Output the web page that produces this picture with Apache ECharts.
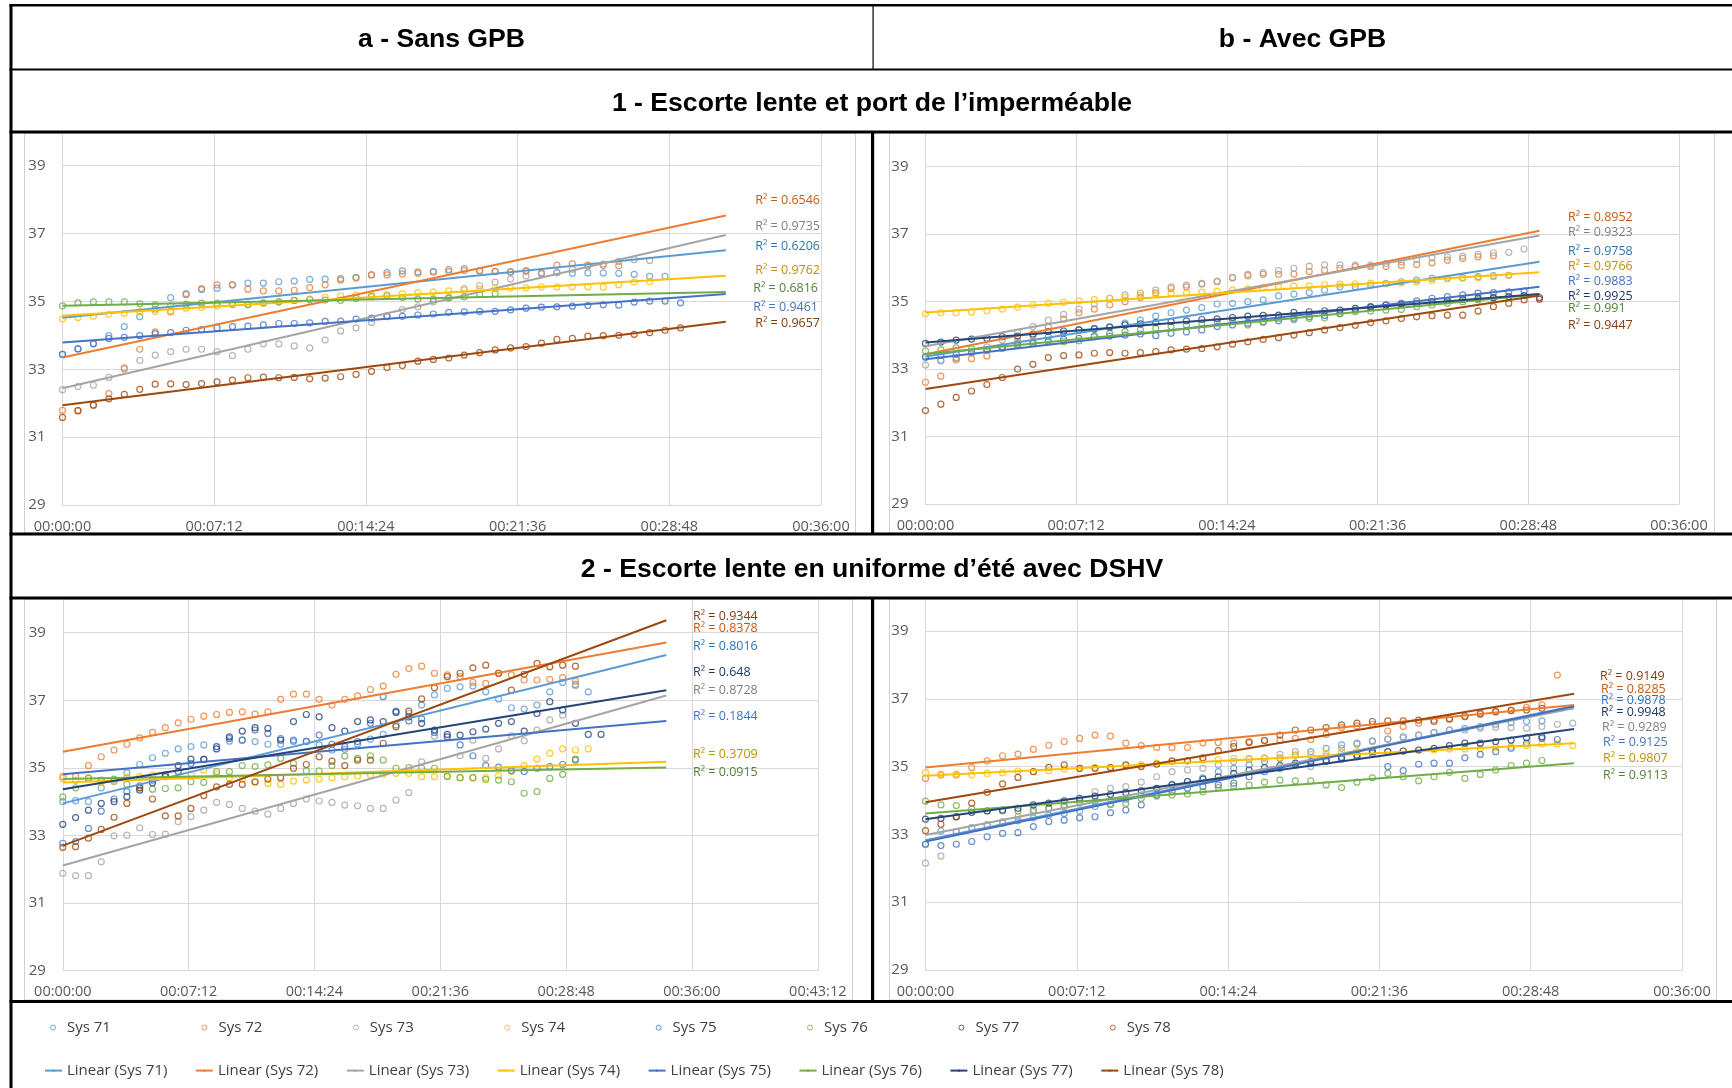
<!DOCTYPE html>
<html><head><meta charset="utf-8">
<script src="https://cdn.jsdelivr.net/npm/echarts@6/dist/echarts.min.js"></script>
<style>html,body{margin:0;padding:0;background:#fff;}#c{width:1732px;height:1088px;}</style>
</head><body><div id="c"></div>
<script>
// ---------- DATA ----------
const TIME = [0,44,88,132,176,220,264,308,352,396,440,484,528,572,616,660,704,748,792,836,880,924,968,1012,1056,1100,1144,1188,1232,1276,1320,1364,1408,1452,1496,1540,1584,1628,1672,1716,1760,1804,1848];
const SYSTEMS = ['Sys 71','Sys 72','Sys 73','Sys 74','Sys 75','Sys 76','Sys 77','Sys 78'];
const COL_TITLES = ['a - Sans GPB','b - Avec GPB'];
const ROW_TITLES = ['1 - Escorte lente et port de l\u2019imperméable','2 - Escorte lente en uniforme d\u2019été avec DSHV'];

// Panel 1a - Sans GPB, impermeable
const A1_SYS71 = [33.44,33.60,33.76,33.99,34.26,34.55,34.77,35.11,35.23,35.35,35.39,35.49,35.54,35.54,35.58,35.60,35.65,35.66,35.67,35.71,35.78,35.85,35.90,35.87,35.89,35.94,35.97,35.90,35.88,35.87,35.91,35.82,35.85,35.83,35.84,35.84,35.83,35.80,35.74,35.74];
const A1_SYS72 = [31.79,31.78,31.95,32.28,33.04,33.59,34.10,34.69,35.20,35.38,35.49,35.49,35.36,35.31,35.31,35.33,35.41,35.49,35.63,35.69,35.78,35.78,35.81,35.83,35.86,35.88,35.91,35.91,35.89,35.87,35.89,35.84,36.07,36.11,36.07,36.06,36.05];
const A1_SYS73 = [32.40,32.49,32.53,32.76,33.01,33.26,33.42,33.52,33.59,33.59,33.52,33.40,33.59,33.75,33.75,33.69,33.63,33.86,34.13,34.22,34.38,34.58,34.76,34.84,34.99,35.11,35.38,35.47,35.57,35.66,35.75,35.83,35.85,35.95,36.04,36.10,36.18,36.23,36.21];
const A1_SYS74 = [34.48,34.53,34.56,34.62,34.65,34.69,34.70,34.72,34.80,34.82,34.87,34.90,34.92,34.95,34.99,35.03,35.07,35.12,35.16,35.19,35.18,35.20,35.23,35.26,35.28,35.31,35.33,35.36,35.39,35.40,35.40,35.43,35.43,35.43,35.43,35.42,35.49,35.57,35.58];
const A1_SYS75 = [33.44,33.60,33.75,33.91,33.94,33.99,34.05,34.08,34.15,34.17,34.22,34.26,34.27,34.31,34.35,34.35,34.37,34.41,34.42,34.48,34.51,34.55,34.56,34.60,34.63,34.68,34.69,34.71,34.71,34.75,34.80,34.83,34.84,34.86,34.88,34.90,34.89,34.98,35.01,35.01,34.96];
const A1_SYS76 = [34.87,34.96,34.99,34.99,34.99,34.93,34.90,34.87,34.92,34.95,34.95,34.92,34.90,34.96,34.99,35.03,35.05,35.04,35.03,35.09,35.14,35.16,35.12,35.07,35.07,35.10,35.14,35.21,35.23];
const A1_SYS78 = [31.58,31.78,31.94,32.13,32.26,32.41,32.56,32.57,32.55,32.58,32.63,32.68,32.75,32.77,32.75,32.76,32.72,32.74,32.78,32.85,32.94,33.05,33.11,33.24,33.29,33.33,33.42,33.49,33.57,33.63,33.67,33.77,33.88,33.91,33.98,33.99,34.00,34.03,34.08,34.15,34.22];
const A1_TREND_START = [34.52,33.35,32.44,34.58,33.79,34.87,null,31.94];
const A1_TREND_END   = [36.51,37.53,36.96,35.76,35.22,35.28,null,34.40];
const A1_TREND_XEND = 1889;
const A1_R2 = ['0.6206','0.6546','0.9735','0.9762','0.9461','0.6816',null,'0.9657'];

// Panel 1b - Avec GPB, impermeable
const B1_SYS71 = [33.34,33.24,33.32,33.49,33.57,33.66,33.76,33.81,33.96,34.06,34.16,34.21,34.26,34.36,34.45,34.57,34.67,34.75,34.82,34.93,34.95,35.00,35.05,35.17,35.22,35.27,35.34,35.44,35.44,35.49,35.54,35.59,35.64,35.69,35.69,35.71,35.74,35.77,35.78];
const B1_SYS72 = [32.61,32.79,33.27,33.31,33.39,33.66,33.83,33.99,34.26,34.48,34.67,34.78,34.90,35.00,35.12,35.26,35.39,35.44,35.52,35.59,35.71,35.77,35.81,35.81,35.82,35.89,35.93,35.99,36.04,36.04,36.04,36.08,36.10,36.15,36.23,36.28,36.33,36.36];
const B1_SYS73 = [33.12,33.27,33.34,33.49,33.66,33.86,34.09,34.26,34.45,34.62,34.78,34.93,35.10,35.20,35.25,35.34,35.44,35.49,35.54,35.61,35.71,35.81,35.86,35.92,35.99,36.05,36.09,36.09,36.08,36.08,36.13,36.18,36.25,36.30,36.33,36.35,36.40,36.45,36.46,36.56];
const B1_SYS74 = [34.64,34.67,34.67,34.69,34.73,34.78,34.84,34.90,34.95,34.98,35.02,35.06,35.10,35.13,35.18,35.23,35.25,35.26,35.28,35.31,35.35,35.38,35.41,35.44,35.46,35.47,35.50,35.52,35.53,35.55,35.53,35.55,35.58,35.63,35.68,35.70,35.71,35.74,35.78];
const B1_SYS75 = [33.37,33.41,33.45,33.50,33.57,33.64,33.71,33.76,33.83,33.88,33.91,33.96,33.98,34.01,34.04,33.99,34.06,34.10,34.16,34.26,34.31,34.36,34.39,34.43,34.48,34.55,34.59,34.64,34.75,34.83,34.90,34.95,35.02,35.10,35.15,35.20,35.25,35.27,35.29,35.31];
const B1_SYS76 = [33.54,33.57,33.63,33.60,33.57,33.61,33.71,33.76,33.81,33.81,33.84,33.98,34.06,34.11,34.16,34.21,34.26,34.31,34.36,34.41,34.45,34.31,34.41,34.50,34.53,34.50,34.52,34.65,34.70,34.72,34.75,34.77,34.85,34.90,34.95,35.00,35.05,35.10];
const B1_SYS77 = [33.76,33.80,33.86,33.89,33.91,33.96,33.98,34.04,34.11,34.13,34.16,34.19,34.24,34.31,34.34,34.38,34.41,34.43,34.47,34.49,34.53,34.57,34.59,34.60,34.68,34.70,34.73,34.75,34.80,34.85,34.90,34.93,34.95,35.00,35.03,35.07,35.10,35.12,35.15,35.18,35.12];
const B1_SYS78 = [31.77,31.96,32.16,32.35,32.54,32.75,33.00,33.14,33.34,33.40,33.42,33.47,33.49,33.47,33.49,33.52,33.57,33.59,33.61,33.66,33.74,33.81,33.88,33.93,34.01,34.08,34.16,34.23,34.30,34.38,34.43,34.50,34.55,34.58,34.60,34.60,34.72,34.85,34.95,35.05,35.07];
const B1_TREND_START = [33.37,33.44,33.68,34.68,33.29,33.45,33.79,32.41];
const B1_TREND_END   = [36.18,37.10,36.96,35.87,35.44,35.22,35.23,35.18];
const B1_TREND_XEND = 1760;
const B1_R2 = ['0.9758','0.8952','0.9323','0.9766','0.9883','0.991','0.9925','0.9447'];

// Panel 2a - Sans GPB, uniforme d'ete
const A2_SYS71 = [34.00,34.03,34.00,34.41,34.60,34.85,35.10,35.30,35.43,35.56,35.63,35.68,35.63,35.79,35.82,35.78,35.70,35.70,35.78,35.79,35.68,35.53,35.55,35.71,35.85,35.99,36.27,36.61,36.86,37.16,37.35,37.40,37.42,37.25,37.04,36.78,36.74,36.86,37.25,37.53,37.47,37.25];
const A2_SYS72 = [34.74,34.76,35.07,35.33,35.53,35.70,35.89,36.05,36.19,36.33,36.44,36.53,36.58,36.64,36.66,36.59,36.66,37.03,37.18,37.18,37.03,36.86,37.03,37.13,37.32,37.42,37.77,37.94,38.01,37.80,37.75,37.70,37.53,37.50,37.80,37.75,37.60,37.60,37.62,37.67,37.57];
const A2_SYS73 = [31.88,31.81,31.81,32.22,32.99,33.01,33.23,33.03,33.04,33.41,33.56,33.75,33.98,33.92,33.80,33.72,33.63,33.80,33.95,34.08,34.02,33.98,33.90,33.88,33.80,33.80,34.05,34.27,35.18,35.94,35.92,35.36,35.82,35.28,35.56,35.95,35.80,36.12,36.42,36.56,37.43];
const A2_SYS74 = [34.69,34.63,34.71,34.59,34.61,34.72,34.74,34.79,34.81,34.89,34.79,34.94,34.82,34.71,34.66,34.57,34.54,34.51,34.61,34.64,34.67,34.71,34.74,34.76,34.79,34.82,34.84,34.84,34.74,34.74,34.77,34.71,34.71,34.71,34.77,34.89,35.07,35.26,35.43,35.56,35.53,35.56];
const A2_SYS75 = [32.77,32.82,33.21,33.72,34.08,34.30,34.47,34.64,34.79,34.89,35.13,35.25,35.63,35.87,35.82,36.12,36.02,35.87,35.82,35.78,35.97,35.70,35.63,35.78,36.32,37.11,36.68,36.39,36.45,36.05,35.92,35.68,35.36,35.07,35.02,34.92,34.89,34.99,35.04,35.10,35.23];
const A2_SYS76 = [34.14,34.41,34.69,34.64,34.67,34.51,34.41,34.37,34.39,34.41,34.59,34.57,34.89,34.89,35.07,35.04,35.09,35.28,35.13,34.91,34.91,35.07,35.35,35.28,35.36,35.23,34.99,35.01,34.99,34.99,34.74,34.71,34.71,34.66,34.64,34.59,34.25,34.30,34.69,34.81,35.26];
const A2_SYS77 = [33.33,33.53,33.75,33.95,34.00,34.15,34.34,34.56,34.74,35.07,35.26,35.25,35.56,35.92,36.09,36.19,36.17,35.82,36.37,36.58,36.51,36.19,36.09,36.37,36.42,36.37,36.64,36.51,36.32,36.12,35.99,35.97,36.07,36.15,36.32,36.37,36.09,36.61,36.96,36.71,36.32,35.99,35.99];
const A2_SYS78 = [32.65,32.67,32.92,33.18,33.54,33.95,34.41,34.08,33.58,33.58,33.80,34.18,34.44,34.51,34.51,34.59,34.67,34.71,34.99,35.10,35.33,35.20,35.07,35.23,35.23,35.73,36.22,36.68,37.04,37.37,37.70,37.80,37.96,38.04,37.80,37.30,37.77,38.09,37.99,38.04,38.01];
const A2_TREND_START = [33.95,35.48,32.11,34.57,34.81,34.67,34.37,32.70];
const A2_TREND_END   = [38.34,38.71,37.14,35.18,36.39,35.01,37.30,39.37];
const A2_TREND_XEND = 2072;
const A2_R2 = ['0.8016','0.8378','0.8728','0.3709','0.1844','0.0915','0.648','0.9344'];

// Panel 2b - Avec GPB, uniforme d'ete
const B2_SYS71 = [32.71,33.10,33.08,33.20,33.28,33.33,33.40,33.49,33.57,33.62,33.69,33.82,33.89,34.04,34.16,34.34,34.48,34.56,34.67,34.85,34.95,35.05,35.15,35.24,35.34,35.44,35.54,35.64,35.69,35.76,35.81,35.88,35.93,36.01,36.08,36.13,36.18,36.25,36.30,36.33,36.35];
const B2_SYS72 = [34.65,34.75,34.75,34.97,35.17,35.32,35.37,35.51,35.63,35.74,35.83,35.93,35.90,35.69,35.62,35.57,35.56,35.56,35.70,35.71,35.69,35.74,35.77,35.78,35.83,35.80,35.95,36.15,36.20,36.25,36.05,36.18,36.28,36.37,36.42,36.50,36.54,36.62,36.67,36.75,36.82,37.70];
const B2_SYS73 = [32.15,32.36,33.08,33.18,33.28,33.38,33.52,33.67,33.77,33.87,34.01,34.26,34.36,34.41,34.54,34.70,34.85,34.90,34.95,35.05,35.15,35.22,35.26,35.36,35.44,35.00,35.31,35.54,35.66,35.74,35.81,35.85,35.93,36.00,36.08,36.08,36.13,36.16,36.15,36.13,36.18,36.25,36.28];
const B2_SYS74 = [34.82,34.78,34.78,34.75,34.80,34.82,34.87,34.85,34.88,34.93,34.95,34.97,34.98,35.03,35.05,35.10,35.15,35.17,35.19,35.21,35.24,35.24,35.24,35.26,35.34,35.36,35.39,35.42,35.44,35.46,35.44,35.46,35.49,35.49,35.52,35.52,35.54,35.56,35.59,35.62,35.67,35.67,35.62];
const B2_SYS75 = [32.71,32.67,32.71,32.79,32.93,33.03,33.05,33.23,33.38,33.42,33.49,33.52,33.64,33.72,33.87,34.16,34.26,34.36,34.41,34.46,34.51,34.70,34.85,34.95,35.05,35.10,35.15,35.22,35.29,35.39,35.00,34.88,35.07,35.10,35.10,35.26,35.36,35.44,35.54,35.69,35.83,35.80];
const B2_SYS76 = [33.98,33.87,33.85,33.75,33.69,33.69,33.69,33.72,33.77,33.82,33.92,33.97,33.89,33.91,34.06,34.13,34.16,34.19,34.26,34.38,34.43,34.46,34.54,34.60,34.58,34.58,34.46,34.38,34.54,34.67,34.80,34.70,34.58,34.70,34.83,34.65,34.77,34.90,35.03,35.10,35.18];
const B2_SYS77 = [33.45,33.47,33.52,33.65,33.69,33.72,33.77,33.87,33.92,33.99,34.06,34.13,34.18,34.23,34.29,34.36,34.46,34.56,34.63,34.70,34.80,34.90,34.97,35.03,35.10,35.15,35.19,35.27,35.34,35.44,35.44,35.46,35.49,35.54,35.62,35.69,35.69,35.74,35.78,35.85,35.88];
const B2_SYS78 = [33.11,33.30,33.52,33.92,34.24,34.49,34.68,34.85,34.98,35.05,34.95,34.95,34.97,35.05,35.00,35.07,35.17,35.17,35.26,35.47,35.59,35.71,35.77,35.93,36.08,36.08,36.15,36.23,36.28,36.33,36.35,36.35,36.37,36.33,36.40,36.47,36.57,36.62,36.65,36.67,36.72];
const B2_TREND_START = [32.83,34.97,32.98,34.73,32.79,33.62,33.45,33.95];
const B2_TREND_END   = [36.79,36.82,36.72,35.69,36.77,35.10,36.11,37.15];
const B2_TREND_XEND = 1852;
const B2_R2 = ['0.9878','0.8285','0.9289','0.9807','0.9125','0.9113','0.9948','0.9149'];

const X_MAX = [2160, 2160, 2592, 2160];
const X_STEP = 432;

// ---------- STYLE / LAYOUT ----------
const COLORS = ['#5B9BD5','#ED7D31','#A5A5A5','#FFC000','#4472C4','#70AD47','#264478','#9E480E'];
const R2_COLORS = ['#2E75B6','#C55A11','#7F7F7F','#BF9000','#4472C4','#548235','#203864','#843C0C'];
const FONT = '"Open Sans", "Noto Sans", sans-serif';

const PANELS = [
  {vals:[A1_SYS71,A1_SYS72,A1_SYS73,A1_SYS74,A1_SYS75,A1_SYS76,null,A1_SYS78], ts:A1_TREND_START, te:A1_TREND_END, tx:A1_TREND_XEND, r2:A1_R2},
  {vals:[B1_SYS71,B1_SYS72,B1_SYS73,B1_SYS74,B1_SYS75,B1_SYS76,B1_SYS77,B1_SYS78], ts:B1_TREND_START, te:B1_TREND_END, tx:B1_TREND_XEND, r2:B1_R2},
  {vals:[A2_SYS71,A2_SYS72,A2_SYS73,A2_SYS74,A2_SYS75,A2_SYS76,A2_SYS77,A2_SYS78], ts:A2_TREND_START, te:A2_TREND_END, tx:A2_TREND_XEND, r2:A2_R2},
  {vals:[B2_SYS71,B2_SYS72,B2_SYS73,B2_SYS74,B2_SYS75,B2_SYS76,B2_SYS77,B2_SYS78], ts:B2_TREND_START, te:B2_TREND_END, tx:B2_TREND_XEND, r2:B2_R2}
];
const GRIDS = [
  {left:62.5, top:131.8, width:758.5, height:373.2},
  {left:925.5, top:133, width:753.5, height:371},
  {left:62.8, top:598.9, width:755, height:371.8},
  {left:925.5, top:597.1, width:756.5, height:372.9}
];
// R² label anchor points [x, y] per system, and alignment per panel
const R2_POS = [
  [[820,246.7],[820,200.7],[820,226.7],[820,270],[818,307.7],[818,288.3],null,[820,323.3]],
  [[1568,251.7],[1568,217.7],[1568,232.7],[1568,266.7],[1568,281.7],[1568,308.7],[1568,296.7],[1568,325.3]],
  [[693,646],[693,628.3],[693,690],[693,754.3],[693,716.7],[693,772.7],[693,672.3],[693,616]],
  [[1601,700],[1601,689.3],[1602,727.7],[1603,758.3],[1603,742.7],[1603,775.3],[1601,712.3],[1600,676]]
];
const R2_ALIGN = ['right','left','left','left'];

function hms(s){
  const h = Math.floor(s/3600), m = Math.floor((s%3600)/60), sec = Math.round(s%60);
  return [h,m,sec].map(v => String(v).padStart(2,'0')).join(':');
}

const grid = [], xAxis = [], yAxis = [], series = [], graphic = [];
PANELS.forEach((p, pi) => {
  grid.push(Object.assign({containLabel:false, outerBoundsMode:'none'}, GRIDS[pi]));
  xAxis.push({type:'value', gridIndex:pi, min:0, max:X_MAX[pi], interval:X_STEP,
    axisLine:{show:true, lineStyle:{color:'#d9d9d9', width:1}}, axisTick:{show:false},
    axisLabel:{formatter:hms, fontFamily:FONT, fontSize:14.5, color:'#595959', margin:14, hideOverlap:false, showMinLabel:true, showMaxLabel:true},
    splitLine:{show:true, lineStyle:{color:'#d9d9d9', width:1}}});
  yAxis.push({type:'value', gridIndex:pi, min:29, max:40, interval:2,
    axisLine:{show:false}, axisTick:{show:false},
    axisLabel:{fontFamily:FONT, fontSize:15, color:'#595959', margin:17, showMaxLabel:false},
    splitLine:{show:true, lineStyle:{color:'#d9d9d9', width:1}}});
  SYSTEMS.forEach((name, k) => {
    const v = p.vals[k];
    if (!v) return;
    series.push({type:'scatter', name:name, xAxisIndex:pi, yAxisIndex:pi, z:2,
      data: v.map((y,i) => [TIME[i], y]),
      symbol:'circle', symbolSize:6,
      itemStyle:{color:'rgba(255,255,255,0)', borderColor:COLORS[k], borderWidth:1.2},
      emphasis:{disabled:true}, silent:true});
    series.push({type:'line', name:'Linear (' + name + ')', xAxisIndex:pi, yAxisIndex:pi, z:3,
      data:[[0, p.ts[k]], [p.tx, p.te[k]]],
      symbol:'none', showSymbol:false,
      lineStyle:{color:COLORS[k], width:2}, itemStyle:{color:COLORS[k]},
      emphasis:{disabled:true}, silent:true});
    const pos = R2_POS[pi][k];
    graphic.push({type:'text', z:50, silent:true, x:pos[0], y:pos[1],
      style:{text:'R\u00B2 = ' + p.r2[k], fill:R2_COLORS[k], font:'12.5px ' + FONT,
        align:R2_ALIGN[pi], verticalAlign:'middle', textAlign:R2_ALIGN[pi], textVerticalAlign:'middle'}});
  });
});

// table structure
const BLK = '#000';
function bar(x,y,w,h,c){ graphic.push({type:'rect', z:100, silent:true, shape:{x:x,y:y,width:w,height:h}, style:{fill:c||BLK}}); }
bar(9.5, 4, 1723, 2.5);       // top
bar(9.5, 68.5, 1723, 2);      // under col headers
bar(9.5, 130.5, 1723, 3);     // under row title 1
bar(9.5, 532.5, 1723, 3);     // under panel row 1
bar(9.5, 596.5, 1723, 3);     // under row title 2
bar(9.5, 1000, 1723, 3);      // above legend
bar(9.5, 4, 3, 1084);         // left border
bar(872.5, 5, 1.2, 64);       // header divider
bar(871, 133, 3.2, 401);      // panel row 1 divider
bar(871, 599, 3.2, 402);      // panel row 2 divider
// chart frames
[[24,133,831,400],[889,133,825,400],[24,599,828,401],[889,599,827,401]].forEach(r => {
  graphic.push({type:'rect', z:1, silent:true, shape:{x:r[0]+0.5,y:r[1],width:r[2],height:r[3]}, style:{fill:'none', stroke:'#d0d0d0', lineWidth:1}});
});
// headers
function title(t,x,y){ graphic.push({type:'text', z:101, silent:true, x:x, y:y, style:{text:t, fill:'#000', font:'bold 26.6px "Liberation Sans", Arial, sans-serif', align:'center', verticalAlign:'middle', textAlign:'center', textVerticalAlign:'middle'}}); }
title(COL_TITLES[0], 441.5, 39.5);
title(COL_TITLES[1], 1302.5, 39.5);
title(ROW_TITLES[0], 872, 103.5);
title(ROW_TITLES[1], 872, 569.5);

const chart = echarts.init(document.getElementById('c'), null, {renderer:'canvas'});
chart.setOption({
  animation:false,
  backgroundColor:'#fff',
  grid:grid, xAxis:xAxis, yAxis:yAxis, series:series, graphic:graphic,
  legend:[
    {data:SYSTEMS, left:45, top:1014.6, orient:'horizontal', icon:'circle', itemWidth:18, itemHeight:5, itemGap:0, selectedMode:false,
     itemStyle:{borderWidth:1},
     textStyle:{fontFamily:FONT, fontSize:15, color:'#404040', width:134.4, lineHeight:16}},
    {data:SYSTEMS.map(s => 'Linear (' + s + ')'), left:39, top:1057.6, orient:'horizontal', itemWidth:17, itemHeight:3, itemGap:0, selectedMode:false,
     textStyle:{fontFamily:FONT, fontSize:15, color:'#404040', width:127.9, lineHeight:16}}
  ]
});
</script>
</body></html>
